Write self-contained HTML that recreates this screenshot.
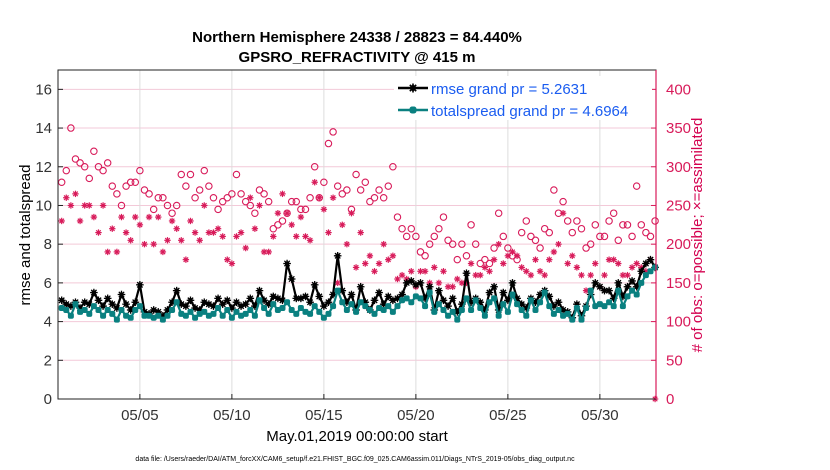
<!DOCTYPE html>
<html><head><meta charset="utf-8"><style>
body{margin:0;background:#fff;}
svg{display:block;font-family:"Liberation Sans",sans-serif;}
</style></head><body>
<svg id="c" width="830" height="470" viewBox="0 0 830 470" xmlns="http://www.w3.org/2000/svg">
<text x="357" y="42" text-anchor="middle" font-size="15" font-weight="bold">Northern Hemisphere 24338 / 28823 = 84.440%</text>
<text x="357" y="62" text-anchor="middle" font-size="15" font-weight="bold">GPSRO_REFRACTIVITY @ 415 m</text>
<text transform="translate(30,235) rotate(-90)" text-anchor="middle" font-size="15">rmse and totalspread</text>
<text transform="translate(702,235) rotate(-90)" text-anchor="middle" font-size="15" fill="#d4004f"># of obs: o=possible; ×=assimilated</text>
<text x="357" y="441" text-anchor="middle" font-size="15">May.01,2019 00:00:00 start</text>
<text x="355" y="461" text-anchor="middle" font-size="7">data file: /Users/raeder/DAI/ATM_forcXX/CAM6_setup/f.e21.FHIST_BGC.f09_025.CAM6assim.011/Diags_NTrS_2019-05/obs_diag_output.nc</text>
<g id="plot"></g>
</svg>
<script>
const xTicks=[4,9,14,19,24,29];
const xTickLabels=["05/05","05/10","05/15","05/20","05/25","05/30"];
const yTicksLeft=[0,2,4,6,8,10,12,14,16];
const yTicksRight=[0,50,100,150,200,250,300,350,400];
const rmse=[5.1,4.9,4.8,5.0,4.7,5.0,4.9,5.5,5.1,4.8,5.2,4.9,4.7,5.4,4.9,4.6,5.0,5.9,4.5,4.4,
4.6,4.5,4.3,4.6,5.0,5.6,4.9,4.8,5.1,4.7,4.6,5.0,4.9,4.8,5.2,4.9,5.1,4.7,5.0,4.8,
4.9,5.2,4.8,5.6,5.1,4.9,5.3,5.2,5.1,7.0,6.2,5.2,5.2,5.3,5.0,5.9,5.3,4.8,5.0,5.4,
7.4,5.6,5.0,5.4,4.6,5.8,5.0,4.6,5.1,5.5,4.9,5.3,5.1,5.2,5.4,6.0,6.1,5.9,6.0,5.2,
5.8,4.6,5.6,5.1,4.8,5.2,4.5,4.9,6.5,5.0,5.2,5.0,4.6,5.5,5.8,4.6,5.5,5.1,6.0,5.2,
4.9,4.7,5.2,5.0,5.4,5.6,5.3,4.8,5.0,4.6,4.5,4.2,4.9,4.3,4.8,5.4,6.0,5.8,5.6,5.6,
5.2,6.0,5.3,5.8,6.1,5.8,6.6,7.0,7.2,6.8];
const spread=[4.7,4.6,4.3,4.9,4.5,4.6,4.4,4.8,4.6,4.3,4.6,4.4,4.1,4.6,4.3,4.2,4.6,4.8,4.3,4.3,
4.2,4.3,4.1,4.3,4.6,5.0,4.4,4.3,4.5,4.2,4.4,4.5,4.3,4.4,4.7,4.3,4.6,4.2,4.5,4.3,
4.4,4.6,4.3,5.1,4.7,4.4,4.9,4.6,4.7,5.0,4.6,4.4,4.7,4.5,4.4,4.8,4.5,4.2,4.4,4.8,
5.6,5.0,4.6,4.9,4.5,5.0,4.8,4.6,4.4,4.7,4.6,4.8,4.5,4.8,5.1,5.2,5.0,5.3,5.2,4.8,
5.5,4.5,4.9,4.6,4.3,4.5,4.1,4.6,5.2,4.6,5.1,4.7,4.3,5.0,5.2,4.3,4.9,4.5,5.4,4.9,
4.6,4.3,5.1,4.6,5.0,5.5,4.8,4.4,4.6,4.3,4.4,4.1,4.7,4.1,4.7,5.6,4.8,4.9,4.8,5.0,
4.8,5.6,4.8,5.3,5.6,5.4,6.0,6.4,6.6,6.8];
const possible=[280,295,350,310,305,300,285,320,300,295,305,275,265,250,275,280,280,295,270,265,
245,260,260,250,240,250,290,275,290,260,270,295,275,260,245,255,260,265,290,265,
255,250,240,270,265,255,220,225,230,240,255,255,245,245,260,300,260,280,330,345,
275,265,270,245,290,270,280,255,260,270,260,275,300,235,220,210,220,210,190,185,
200,210,220,235,205,200,180,200,185,225,200,175,180,175,195,240,210,195,185,180,
215,230,210,205,195,220,215,270,240,255,230,215,230,220,195,200,225,210,210,230,
240,205,225,225,210,275,225,215,210,230];
const assimilated=[230,260,250,265,230,250,250,235,215,250,190,220,190,235,215,205,235,225,200,235,
200,235,190,205,230,220,205,180,230,215,205,250,215,215,220,210,180,175,210,215,
195,260,220,250,190,190,210,240,265,240,225,210,235,210,205,280,260,245,215,260,
150,225,200,240,170,215,175,185,165,175,200,180,185,155,160,155,165,145,165,165,
150,170,150,165,145,145,155,150,150,175,160,160,170,165,180,200,175,185,190,185,
170,165,160,180,165,160,180,190,200,240,175,185,170,160,140,160,175,145,160,180,
180,175,160,160,170,175,170,165,180,0];
const NS="http://www.w3.org/2000/svg";
const L=58,R=656,T=70,B=399;
const X0=-0.45,X1=32.05;
const sx=d=>L+(d-X0)/(X1-X0)*(R-L);
const syL=v=>B-v/17*(B-T);
const syR=v=>B-v/425*(B-T);
const tOf=i=>i*0.25-0.25;
const g=document.getElementById('plot');
function mk(tag,at,parent){const e=document.createElementNS(NS,tag);for(const k in at)e.setAttribute(k,at[k]);(parent||g).appendChild(e);return e;}
const RED="#d81b5a";
mk('rect',{x:L,y:T,width:R-L,height:B-T,fill:'#fff',stroke:'none'});
yTicksLeft.forEach(v=>{if(v===0)return;const e=mk('line',{x1:L,x2:R,y1:syL(v),y2:syL(v),stroke:'#f3c9d8','stroke-width':1});

});
xTicks.forEach((d,i)=>{const e=mk('line',{x1:sx(d),x2:sx(d),y1:T,y2:B,stroke:'#dcdcdc','stroke-width':1});


const tk=mk('line',{x1:sx(d),x2:sx(d),y1:B,y2:B-5,stroke:'#222'});


const t=mk('text',{x:sx(d),y:B+21,'text-anchor':'middle','font-size':15,fill:'#333'});t.textContent=xTickLabels[i];

});
yTicksLeft.forEach(v=>{const tk=mk('line',{x1:L,x2:L+5,y1:syL(v),y2:syL(v),stroke:'#222'});


const t=mk('text',{x:L-6,y:syL(v)+5,'text-anchor':'end','font-size':15,fill:'#333'});t.textContent=v;

});
yTicksRight.forEach(v=>{const tk=mk('line',{x1:R,x2:R-5,y1:syR(v),y2:syR(v),stroke:RED});


const t=mk('text',{x:R+10,y:syR(v)+5,'text-anchor':'start','font-size':15,fill:RED});t.textContent=v;

});
function star(x,y,r,col,w){const s=mk('g',{stroke:col,'stroke-width':w});
for(let k=0;k<4;k++){const a=k*Math.PI/4;mk('line',{x1:x-r*Math.cos(a),y1:y-r*Math.sin(a),x2:x+r*Math.cos(a),y2:y+r*Math.sin(a)},s);}return s;}
possible.forEach((v,i)=>{const c=mk('circle',{cx:sx(tOf(i)),cy:syR(v),r:3.2,fill:'none',stroke:RED,'stroke-width':1.1});

});
assimilated.forEach((v,i)=>{const s=star(sx(tOf(i)),syR(v),3.2,RED,1.2);

});
function series(arr,col,name,w,markerFn){
const pts=arr.map((v,i)=>sx(tOf(i)).toFixed(1)+','+syL(v).toFixed(1)).join(' ');
const pl=mk('polyline',{points:pts,fill:'none',stroke:col,'stroke-width':w,'stroke-linejoin':'round'});


arr.forEach((v,i)=>{const m=markerFn(sx(tOf(i)),syL(v));

});}
series(rmse,'#000','rmse',2.2,(x,y)=>{const gg=mk('g',{});mk('circle',{cx:x,cy:y,r:2.3,fill:'#000'},gg);const s=star(x,y,3.8,'#000',1.3);gg.appendChild(s);return gg;});
series(spread,'#0a8080','totalspread',2.2,(x,y)=>mk('rect',{x:x-3,y:y-3,width:6,height:6,rx:2,fill:'#0a8080'}));
mk('rect',{x:L,y:T,width:R-L,height:B-T,fill:'none',stroke:'#222','stroke-width':1});
mk('line',{x1:R,x2:R,y1:T,y2:B,stroke:RED,'stroke-width':1.2});
const lg=mk('g',{});


mk('rect',{x:394,y:76,width:258,height:44,fill:'#fff'},lg);
mk('line',{x1:398,x2:428,y1:88,y2:88,stroke:'#000','stroke-width':2.5},lg);
mk('circle',{cx:413,cy:88,r:3,fill:'#000'},lg);lg.appendChild(star(413,88,4.5,'#000',1.6));
mk('line',{x1:398,x2:428,y1:110,y2:110,stroke:'#0a8080','stroke-width':2.5},lg);
mk('rect',{x:409.5,y:106.5,width:7,height:7,rx:2.5,fill:'#0a8080'},lg);
const t1=mk('text',{x:431,y:94,'font-size':15,fill:'#1a5cf0'},lg);t1.textContent='rmse grand pr = 5.2631';


const t2=mk('text',{x:431,y:116,'font-size':15,fill:'#1a5cf0'},lg);t2.textContent='totalspread grand pr = 4.6964';


</script>
</body></html>
